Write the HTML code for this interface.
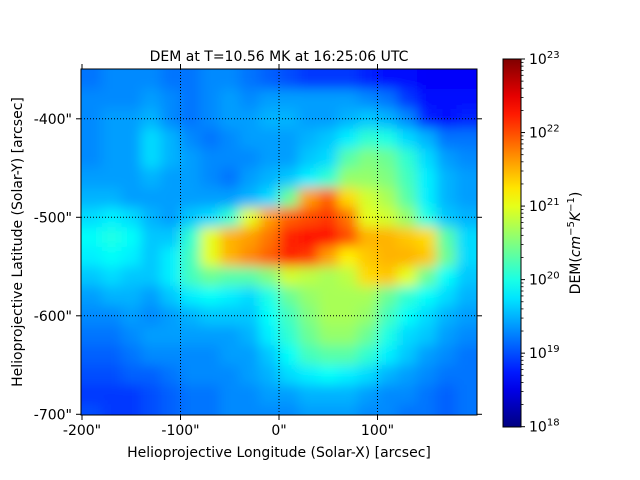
<!DOCTYPE html>
<html><head><meta charset="utf-8"><style>
body{margin:0;background:#fff;}
svg{display:block;font-family:"DejaVu Sans","Liberation Sans",sans-serif;}
</style></head><body>
<svg id="chart" width="640" height="480" viewBox="0 0 640 480">
<defs>
<clipPath id="plotclip"><rect x="81" y="69" width="396" height="346"/></clipPath>
<filter id="blur" x="-10%" y="-10%" width="120%" height="120%"><feGaussianBlur stdDeviation="6"/></filter>
<linearGradient id="jetgrad" x1="0" y1="1" x2="0" y2="0"></linearGradient>
</defs>
<g clip-path="url(#plotclip)"><g id="cells" filter="url(#blur)"></g></g>
<g id="grid"></g>
<rect x="81" y="69" width="396" height="346" fill="none" stroke="#000" stroke-width="1"/>
<g id="axes"></g>
<text x="279" y="61" text-anchor="middle" font-size="14">DEM at T=10.56 MK at 16:25:06 UTC</text>
<text x="279" y="457" text-anchor="middle" font-size="14">Helioprojective Longitude (Solar-X) [arcsec]</text>
<text transform="translate(22,242) rotate(-90)" text-anchor="middle" font-size="14">Helioprojective Latitude (Solar-Y) [arcsec]</text>
<rect x="503" y="59" width="18" height="368" fill="url(#jetgrad)" stroke="#000" stroke-width="1"/>
<g id="cbaxis"></g>
<text transform="translate(580,243) rotate(-90)" text-anchor="middle" font-size="14">DEM(<tspan font-style="italic">cm</tspan><tspan font-size="10" dy="-6">−5</tspan><tspan font-style="italic" dy="6">K</tspan><tspan font-size="10" dy="-6">−1</tspan><tspan dy="6">)</tspan></text>
</svg>
<script>
const xCenters=[-190,-170,-150,-130,-110,-90,-70,-50,-30,-10,10,30,50,70,90,110,130,150,170,190];
const yCenters=[-360,-380,-400,-420,-440,-460,-480,-500,-520,-540,-560,-580,-600,-620,-640,-660,-680,-700];
const logDem=[
[19.2,19.3,19.3,19.3,19.2,19.2,19.3,19.3,19.2,19.1,19.0,18.9,18.9,18.9,18.8,18.7,18.7,18.6,18.6,18.6],
[19.3,19.3,19.3,19.4,19.3,19.2,19.3,19.4,19.3,19.4,19.4,19.4,19.4,19.4,19.3,19.2,18.9,18.7,18.7,18.7],
[19.3,19.4,19.4,19.5,19.3,19.2,19.3,19.4,19.4,19.5,19.5,19.4,19.4,19.5,19.6,19.5,19.3,18.8,18.7,18.8],
[19.3,19.4,19.4,19.7,19.5,19.3,19.2,19.3,19.4,19.4,19.4,19.5,19.6,19.8,20.1,20.0,19.7,19.5,19.2,19.2],
[19.3,19.4,19.4,19.7,19.5,19.4,19.3,19.3,19.3,19.4,19.4,19.6,19.7,20.3,20.5,20.4,20.1,19.7,19.4,19.3],
[19.4,19.4,19.4,19.5,19.4,19.4,19.3,19.2,19.4,19.5,19.6,19.8,20.1,20.6,20.6,20.5,20.2,19.8,19.5,19.4],
[19.5,19.5,19.4,19.4,19.4,19.4,19.4,19.4,19.5,19.7,20.4,21.6,21.9,21.3,20.9,20.7,20.3,19.8,19.5,19.4],
[19.7,19.8,19.7,19.5,19.4,19.6,19.7,20.1,21.0,21.6,21.9,22.0,22.1,21.8,21.0,20.9,20.6,20.0,19.6,19.5],
[19.9,20.0,19.9,19.6,19.6,20.1,21.0,21.5,21.6,21.8,22.2,22.3,22.3,22.0,21.5,21.5,21.4,21.3,20.3,19.7],
[19.8,19.9,19.8,19.6,19.8,20.2,21.0,21.5,21.7,21.9,22.2,22.1,21.6,21.2,21.4,21.5,21.5,21.4,20.4,19.7],
[19.6,19.7,19.6,19.6,19.8,20.2,20.4,20.3,20.3,20.5,20.9,20.8,20.7,20.8,21.3,21.4,21.0,20.4,19.9,19.6],
[19.4,19.5,19.5,19.4,19.6,19.8,19.9,19.8,19.7,20.0,20.4,20.6,20.7,20.7,20.7,20.4,20.1,19.9,19.7,19.5],
[19.3,19.3,19.4,19.3,19.4,19.5,19.6,19.6,19.6,19.9,20.2,20.5,20.7,20.7,20.6,20.2,19.9,19.7,19.5,19.4],
[19.2,19.2,19.3,19.4,19.4,19.4,19.4,19.4,19.5,19.8,20.1,20.4,20.6,20.6,20.4,20.0,19.7,19.6,19.4,19.3],
[19.1,19.1,19.2,19.3,19.3,19.3,19.3,19.4,19.4,19.6,19.9,20.2,20.3,20.3,20.1,19.8,19.6,19.4,19.3,19.2],
[19.0,19.0,19.1,19.1,19.2,19.3,19.3,19.3,19.4,19.5,19.7,19.8,19.9,19.8,19.7,19.5,19.4,19.3,19.2,19.2],
[18.9,18.9,18.9,19.0,19.1,19.2,19.2,19.3,19.3,19.4,19.4,19.5,19.5,19.5,19.4,19.3,19.3,19.2,19.1,19.2],
[19.0,18.9,18.9,19.0,19.1,19.2,19.2,19.3,19.3,19.3,19.3,19.4,19.4,19.4,19.3,19.3,19.2,19.2,19.1,19.2]
];
const xTicks=[-200,-100,0,100];
const xTickLabels=['-200"','-100"','0"','100"'];
const yTicks=[-400,-500,-600,-700];
const yTickLabels=['-400"','-500"','-600"','-700"'];
const cbDecades=[18,19,20,21,22,23];

const NS='http://www.w3.org/2000/svg';
const xs=v=>279+(v-0)*0.985;
const ys=v=>217.3+(-500-v)*0.985;
const cmin=18,cmax=23;
const cy=v=>426.7-(v-cmin)/(cmax-cmin)*367.7;
function jet(t){t=Math.max(0,Math.min(1,t));const c=x=>Math.round(255*Math.max(0,Math.min(1,x)));
return `rgb(${c(1.5-Math.abs(4*t-3))},${c(1.5-Math.abs(4*t-2))},${c(1.5-Math.abs(4*t-1))})`;}
function mk(tag,attrs,parent){const e=document.createElementNS(NS,tag);for(const k in attrs)e.setAttribute(k,attrs[k]);parent.appendChild(e);return e;}

const cells=document.getElementById('cells');
const dx=20*0.985,dy=20*0.985;
yCenters.forEach((yv,i)=>{xCenters.forEach((xv,j)=>{
  let x0=xs(xv)-dx/2,x1=xs(xv)+dx/2,y0=ys(yv)-dy/2,y1=ys(yv)+dy/2;
  if(j===0)x0-=30; if(j===xCenters.length-1)x1+=30;
  if(i===0)y0-=30; if(i===yCenters.length-1)y1+=30;
  const r=mk('rect',{x:x0,y:y0,width:x1-x0+0.5,height:y1-y0+0.5,fill:jet((logDem[i][j]-cmin)/(cmax-cmin))},cells);
  
  
});});

const grid=document.getElementById('grid');
xTicks.slice(1).forEach(v=>{const l=mk('line',{x1:xs(v),x2:xs(v),y1:69,y2:415,stroke:'#000','stroke-width':1,'stroke-dasharray':'1,2'},grid);
});
yTicks.slice(0,3).forEach(v=>{const l=mk('line',{x1:81,x2:477,y1:ys(v),y2:ys(v),stroke:'#000','stroke-width':1,'stroke-dasharray':'1,2'},grid);
});

const axes=document.getElementById('axes');
xTicks.forEach((v,i)=>{const x=xs(v);
  mk('line',{x1:x,x2:x,y1:415,y2:420,stroke:'#000'},axes);
  mk('line',{x1:x,x2:x,y1:69,y2:64,stroke:'#000'},axes);
  const t=mk('text',{x:x,y:435,'text-anchor':'middle','font-size':14},axes);t.textContent=xTickLabels[i];
  });
yTicks.forEach((v,i)=>{const y=ys(v);
  mk('line',{x1:81,x2:76,y1:y,y2:y,stroke:'#000'},axes);
  mk('line',{x1:477,x2:482,y1:y,y2:y,stroke:'#000'},axes);
  const t=mk('text',{x:72,y:y+5,'text-anchor':'end','font-size':14},axes);t.textContent=yTickLabels[i];
  });

const grad=document.getElementById('jetgrad');
for(let k=0;k<=20;k++){mk('stop',{offset:(k/20),'stop-color':jet(k/20)},grad);}
const cb=document.getElementById('cbaxis');
cbDecades.forEach((d,i)=>{const y=cy(d);
  mk('line',{x1:521,x2:525,y1:y,y2:y,stroke:'#000'},cb);
  const t=mk('text',{x:529,y:y+5,'font-size':14},cb);
  
  t.innerHTML='10<tspan font-size="10" dy="-6">'+d+'</tspan>';
  if(i<cbDecades.length-1){for(let m=2;m<=9;m++){const ym=cy(d+Math.log10(m));mk('line',{x1:521,x2:523.5,y1:ym,y2:ym,stroke:'#000','stroke-width':0.8},cb);}}
});
</script>
</body></html>
